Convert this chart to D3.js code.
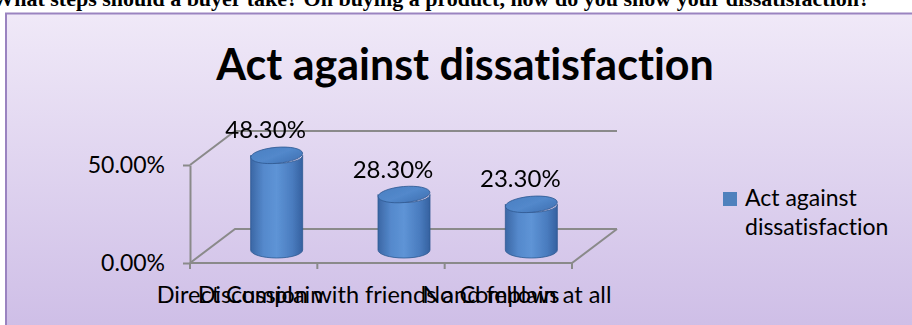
<!DOCTYPE html>
<html>
<head>
<meta charset="utf-8">
<script src="https://cdn.jsdelivr.net/npm/d3@7"></script>
<style>
  html, body { margin: 0; padding: 0; background: #ffffff; overflow: hidden; }
  svg { display: block; }
  svg text { font-variant-ligatures: none; font-feature-settings: "liga" 0, "clig" 0; }
</style>
</head>
<body>
<svg id="chart" width="912" height="325"></svg>
<script>
// ---- data ----
const questionText = "What steps should a buyer take? On buying a product, how do you show your dissatisfaction?";
const chartTitle = "Act against dissatisfaction";
const seriesName = "Act against dissatisfaction";
const categories = ["Direct Complain", "Discussion with friends and fellows", "No Complain at all"];
const values = [0.483, 0.283, 0.233];
const yTicks = [0, 0.5];

// ---- setup ----
const svg = d3.select("#chart");
const W = 912, H = 325;
const pct = d3.format(".2%");
const FONT = "Lato, 'Open Sans', sans-serif";

const defs = svg.append("defs");
const bg = defs.append("linearGradient").attr("id", "bgGrad")
  .attr("x1", 0).attr("y1", 0).attr("x2", 0).attr("y2", 1);
bg.append("stop").attr("offset", "0%").attr("stop-color", "#f0e9f8");
bg.append("stop").attr("offset", "100%").attr("stop-color", "#cbbae5");

const bodyGrad = defs.append("linearGradient").attr("id", "cylBody")
  .attr("x1", 0).attr("y1", 0).attr("x2", 1).attr("y2", 0);
[["0%", "#3b67a5"], ["25%", "#5589cc"], ["50%", "#5e94d6"], ["80%", "#4a7cbf"], ["100%", "#3561a0"]]
  .forEach(([o, c]) => bodyGrad.append("stop").attr("offset", o).attr("stop-color", c));

const capGrad = defs.append("linearGradient").attr("id", "cylTop")
  .attr("x1", 0).attr("y1", 0).attr("x2", 1).attr("y2", 1);
[["0%", "#4c80c2"], ["50%", "#5288cb"], ["100%", "#3f70b2"]]
  .forEach(([o, c]) => capGrad.append("stop").attr("offset", o).attr("stop-color", c));

defs.append("filter").attr("id", "soft")
  .append("feGaussianBlur").attr("stdDeviation", 0.6);

// question line running off the top of the page
svg.append("text")
  .attr("x", 870).attr("y", 6)
  .attr("text-anchor", "end")
  .attr("font-family", "'Liberation Serif', 'Times New Roman', serif")
  .attr("font-weight", "bold")
  .attr("font-size", 22)
  .attr("fill", "#000")
  .text(questionText);

// chart area frame
svg.append("rect")
  .attr("x", 6).attr("y", 13.5)
  .attr("width", W + 20).attr("height", H + 20)
  .attr("fill", "url(#bgGrad)")
  .attr("stroke", "#9a83c0").attr("stroke-width", 2);

// title
svg.append("text")
  .attr("x", 465).attr("y", 80)
  .attr("text-anchor", "middle")
  .attr("font-family", FONT)
  .attr("font-weight", "bold")
  .attr("font-size", 43)
  .attr("fill", "#000")
  .text(chartTitle);

// ---- scales ----
const x = d3.scaleBand().domain(categories).range([190, 572]).padding(0);
const y = d3.scaleLinear().domain([0, 0.5]).range([263, 165]);
const depth = { dx: 45, dy: -34 };       // back wall offset
const barPlane = { dx: 23, dy: -13 };    // plane the cylinders stand on
const rx = 26, ry = 8;

const grid = svg.append("g")
  .attr("fill", "none").attr("stroke", "#8a8a8a").attr("stroke-width", 2);

// side wall + back wall gridlines
yTicks.forEach(t => {
  const p = d3.path();
  p.moveTo(x.range()[0], y(t));
  p.lineTo(x.range()[0] + depth.dx, y(t) + depth.dy);
  p.lineTo(x.range()[1] + depth.dx, y(t) + depth.dy);
  grid.append("path").attr("d", p.toString());
});

// floor front and right edges
{
  const p = d3.path();
  p.moveTo(x.range()[0], y(0));
  p.lineTo(x.range()[1], y(0));
  p.lineTo(x.range()[1] + depth.dx, y(0) + depth.dy);
  grid.append("path").attr("d", p.toString());
}

// value axis
const yAxis = d3.axisLeft(y)
  .tickValues(yTicks)
  .tickFormat(pct)
  .tickSize(7)
  .tickSizeOuter(0)
  .tickPadding(18);
const yg = svg.append("g").attr("transform", `translate(${x.range()[0]},0)`).call(yAxis);
yg.select(".domain").attr("stroke", "#8a8a8a").attr("stroke-width", 2);
yg.selectAll(".tick line").attr("stroke", "#8a8a8a").attr("stroke-width", 2);
yg.selectAll(".tick text")
  .attr("font-family", FONT).attr("font-size", 23).attr("fill", "#000");

// category tick marks on band boundaries
const bounds = categories.map(c => x(c)).concat([x.range()[1]]);
grid.selectAll("line.ctick").data(bounds).join("line")
  .attr("class", "ctick")
  .attr("x1", d => d).attr("x2", d => d)
  .attr("y1", y(0)).attr("y2", y(0) + 6);

// category labels (long names run into each other under the narrow bands)
const labelX = d3.scalePoint().domain(categories).range([240, 517]);
svg.append("g").selectAll("text").data(categories).join("text")
  .attr("x", d => labelX(d))
  .attr("y", 303)
  .attr("text-anchor", "middle")
  .attr("font-family", FONT).attr("font-size", 23.5).attr("fill", "#000")
  .text(d => d);

// ---- cylinders ----
const bars = categories.map((c, i) => ({
  cat: c,
  value: values[i],
  cx: x(c) + x.bandwidth() / 2 + barPlane.dx,
  yBase: y(0) + barPlane.dy,
  yTop: y(values[i]) + barPlane.dy
}));

const cyl = svg.append("g").attr("filter", "url(#soft)");
bars.forEach(b => {
  const g = cyl.append("g");
  const d = `M${b.cx - rx},${b.yTop}`
    + ` L${b.cx - rx},${b.yBase}`
    + ` A${rx},${ry} 0 0 0 ${b.cx + rx},${b.yBase}`
    + ` L${b.cx + rx},${b.yTop}`
    + ` A${rx},${ry} 0 0 1 ${b.cx - rx},${b.yTop} Z`;
  g.append("path").attr("d", d)
    .attr("fill", "url(#cylBody)")
    .attr("stroke", "#2f5a92").attr("stroke-width", 0.8);
  g.append("ellipse")
    .attr("cx", b.cx).attr("cy", b.yTop)
    .attr("rx", rx).attr("ry", ry)
    .attr("transform", `rotate(-5,${b.cx},${b.yTop})`)
    .attr("fill", "url(#cylTop)")
    .attr("stroke", "#2f5a92").attr("stroke-width", 0.8);
});

// value labels
svg.append("g").selectAll("text").data(bars).join("text")
  .attr("x", d => d.cx - 11)
  .attr("y", d => d.yTop - ry - 9)
  .attr("text-anchor", "middle")
  .attr("font-family", FONT).attr("font-size", 24).attr("fill", "#000")
  .text(d => pct(d.value));

// ---- legend ----
const legend = svg.append("g").attr("transform", "translate(723,192)");
legend.append("rect").attr("width", 14).attr("height", 14).attr("fill", "#4f81bd");
const words = seriesName.split(" ");
const lines = [words.slice(0, 2).join(" "), words.slice(2).join(" ")];
const lt = legend.append("text")
  .attr("font-family", FONT).attr("font-size", 23).attr("fill", "#000");
lines.forEach((s, i) => {
  lt.append("tspan").attr("x", 22).attr("y", 14 + i * 29).text(s);
});
</script>
</body>
</html>
